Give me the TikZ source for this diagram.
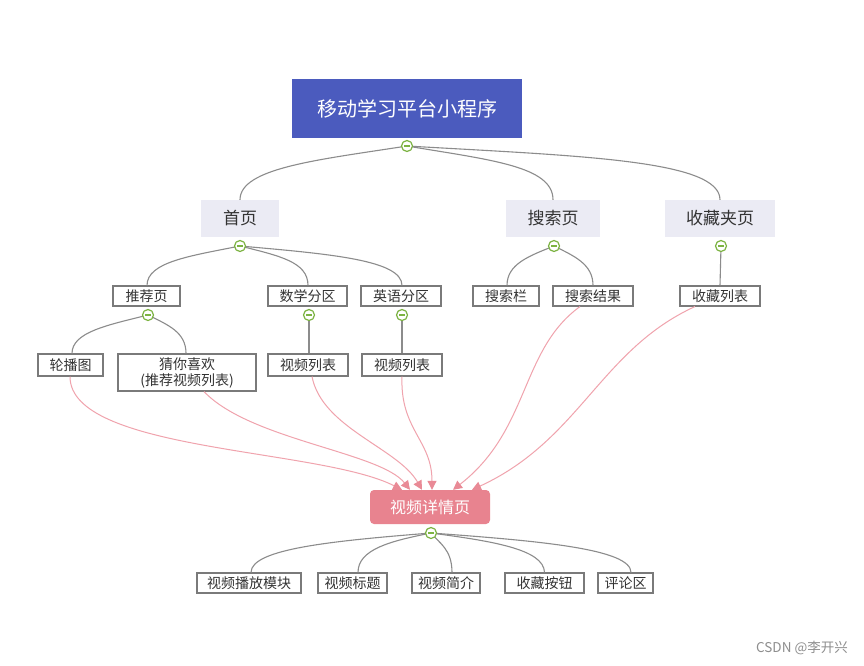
\documentclass[tikz,border=0pt]{standalone}
\usepackage{fontspec}
\setmainfont{Noto Sans CJK SC}
\usetikzlibrary{arrows.meta}
\definecolor{rootblue}{HTML}{4B5BBE}
\definecolor{topicfill}{HTML}{EBEBF4}
\definecolor{textgray}{HTML}{333333}
\definecolor{boxgray}{HTML}{7A7A7A}
\definecolor{conngray}{HTML}{8C8C8C}
\definecolor{toggreen}{HTML}{7CB342}
\definecolor{detailpink}{HTML}{E8838F}
\definecolor{linkpink}{HTML}{F0A3AD}
\definecolor{arrowpink}{HTML}{E98A96}
\definecolor{markgray}{HTML}{8E8E8E}
\tikzset{
  rootbox/.style={fill=rootblue, text=white, minimum width=230pt, minimum height=59pt, inner sep=0pt, font=\fontsize{20}{24}\selectfont},
  topicbox/.style={fill=topicfill, text=textgray, minimum height=37pt, inner sep=0pt, font=\fontsize{17}{20}\selectfont},
  subbox/.style={draw=boxgray, line width=1.1pt, fill=white, text=textgray, minimum height=20pt, inner sep=0pt, font=\fontsize{14}{16}\selectfont},
  detailbox/.style={fill=detailpink, rounded corners=4pt, text=white, minimum width=120pt, minimum height=34pt, inner sep=0pt, font=\fontsize{16}{19}\selectfont},
  conn/.style={draw=conngray, line width=1.1pt},
  linkarrow/.style={draw=linkpink, line width=1pt, -{Triangle[length=9pt,width=9pt,color=arrowpink]}},
  toggle/.style={circle, draw=toggreen, fill=white, line width=1.2pt, minimum size=11pt, inner sep=0pt,
    path picture={\draw[toggreen, line width=1.3pt] ([xshift=-2.8pt]path picture bounding box.center) -- ([xshift=2.8pt]path picture bounding box.center);}},
  watermark/.style={text=markgray, font=\fontsize{13.5}{16}\selectfont, inner sep=0pt}
}
\begin{document}
\begin{tikzpicture}[x=1pt,y=-1pt]
\useasboundingbox (0,0) rectangle (864,666);
\fill[white] (0,0) rectangle (864,666);

% boxes
\node[rootbox] (root) at (407,108.5) {移动学习平台小程序};
\node[topicbox, minimum width=78pt] (home) at (240,218.5) {首页};
\node[topicbox, minimum width=94pt] (search) at (553,218.5) {搜索页};
\node[topicbox, minimum width=110pt] (fav) at (720,218.5) {收藏夹页};

\node[subbox, minimum width=67pt] (rec) at (146.5,296) {推荐页};
\node[subbox, minimum width=79pt] (math) at (307.5,296) {数学分区};
\node[subbox, minimum width=80pt] (eng) at (401,296) {英语分区};
\node[subbox, minimum width=66pt] (sbar) at (506,296) {搜索栏};
\node[subbox, minimum width=80pt] (sres) at (593,296) {搜索结果};
\node[subbox, minimum width=80pt] (flist) at (720,296) {收藏列表};

\node[subbox, minimum width=65pt, minimum height=22pt] (banner) at (70.5,365) {轮播图};
\node[subbox, minimum width=138pt, minimum height=37pt, align=center] (guess) at (187,372.5) {猜你喜欢\\(推荐视频列表)};
\node[subbox, minimum width=80pt, minimum height=22pt] (mlist) at (308,365) {视频列表};
\node[subbox, minimum width=80pt, minimum height=22pt] (elist) at (402,365) {视频列表};

\node[detailbox] (detail) at (430,507) {视频详情页};

\node[subbox, minimum width=104pt] (play) at (249,583) {视频播放模块};
\node[subbox, minimum width=69pt] (title) at (352.5,583) {视频标题};
\node[subbox, minimum width=68pt] (intro) at (446,583) {视频简介};
\node[subbox, minimum width=79pt] (favbtn) at (544.5,583) {收藏按钮};
\node[subbox, minimum width=55pt] (comment) at (625.5,583) {评论区};

% toggle positions
\coordinate (tRoot) at (407,146);
\coordinate (tHome) at (240,246);
\coordinate (tSearch) at (554,246);
\coordinate (tFav) at (721,246);
\coordinate (tRec) at (148,315);
\coordinate (tMath) at (309,315);
\coordinate (tEng) at (402,315);
\coordinate (tDetail) at (431,533);

% gray connectors
\draw[conn] (tRoot) .. controls (317,160) and (240,168) .. (home.north);
\draw[conn] (tRoot) .. controls (490,160) and (553,166) .. (search.north);
\draw[conn] (tRoot) .. controls (580,156) and (720,160) .. (fav.north);

\draw[conn] (tHome) .. controls (190,256) and (147,262) .. ([xshift=0.5pt]rec.north);
\draw[conn] (tHome) .. controls (280,256) and (308,262) .. ([xshift=0.5pt]math.north);
\draw[conn] (tHome) .. controls (330,254) and (402,260) .. ([xshift=1pt]eng.north);

\draw[conn] (tSearch) .. controls (529,256) and (507,264) .. ([xshift=1pt]sbar.north);
\draw[conn] (tSearch) .. controls (574,256) and (593,264) .. (sres.north);
\draw[conn] (tFav) -- (flist.north);

\draw[conn] (tRec) .. controls (108,325) and (72,332) .. ([xshift=1.5pt]banner.north);
\draw[conn] (tRec) .. controls (168,325) and (186,332) .. ([xshift=-1pt]guess.north);
\draw[conn] (tMath) -- ([xshift=1pt]mlist.north);
\draw[conn] (tEng) -- (elist.north);

\draw[conn] (tDetail) .. controls (331,541) and (251,549) .. ([xshift=2pt]play.north);
\draw[conn] (tDetail) .. controls (391,541) and (358,549) .. ([xshift=5.5pt]title.north);
\draw[conn] (tDetail) .. controls (439,543) and (452,549) .. ([xshift=6pt]intro.north);
\draw[conn] (tDetail) .. controls (491,541) and (544,549) .. (favbtn.north);
\draw[conn] (tDetail) .. controls (541,541) and (631,549) .. ([xshift=5.5pt]comment.north);

% toggles
\node[toggle] at (tRoot) {};
\node[toggle] at (tHome) {};
\node[toggle] at (tSearch) {};
\node[toggle] at (tFav) {};
\node[toggle] at (tRec) {};
\node[toggle] at (tMath) {};
\node[toggle] at (tEng) {};
\node[toggle] at (tDetail) {};

% pink links
\draw[linkarrow] ([xshift=-0.5pt]banner.south) .. controls (70,452) and (320,448) .. ([xshift=-28pt]detail.north);
\draw[linkarrow] ([xshift=17pt]guess.south) .. controls (250,440) and (380,452) .. ([xshift=-20pt]detail.north);
\draw[linkarrow] ([xshift=4pt]mlist.south) .. controls (322,428) and (398,448) .. ([xshift=-8pt]detail.north);
\draw[linkarrow] (elist.south) .. controls (400,430) and (432,440) .. ([xshift=2pt]detail.north);
\draw[linkarrow] ([xshift=-13pt]sres.south) .. controls (520,350) and (530,430) .. ([xshift=23pt]detail.north);
\draw[linkarrow] ([xshift=-25pt]flist.south) .. controls (600,350) and (580,440) .. ([xshift=42pt]detail.north);

% watermark
\node[watermark, anchor=east] (wm) at (848,648) {CSDN @李开兴};
\end{tikzpicture}
\end{document}
